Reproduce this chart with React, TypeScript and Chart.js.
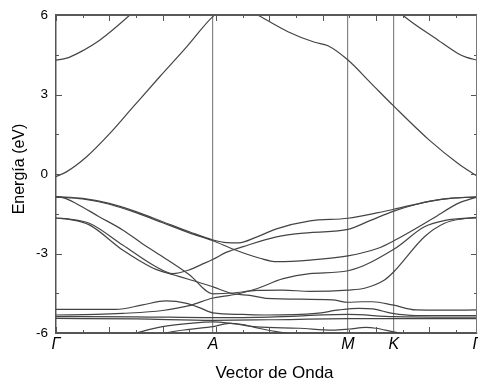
import React, { useEffect, useRef } from 'react';
import { Chart, registerables } from 'chart.js';
Chart.register(...registerables);

// High-symmetry path (x in tick units of the k-axis)
const kLabels = ['Γ', 'A', 'M', 'K', 'Γ'];
const kPositions = [0, 5.89, 10.95, 12.67, 15.79];
const xMax = 15.79;
const yTickValues = [-6, -3, 0, 3, 6];
const xTitle = 'Vector de Onda';
const yTitle = 'Energía (eV)';

// Conduction bands [k, E(eV)]
const cb1: number[][] = [[0,-0.1],[0.39,0.08],[1.15,0.65],[2.02,1.53],[2.9,2.54],[3.89,3.67],[4.9,4.8],[5.89,5.95],[6.7,6.5],[7.57,6.0],[8.7,5.37],[9.7,4.97],[10.2,4.84],[10.95,4.3],[11.82,3.42],[12.66,2.57],[14.0,1.28],[15.08,0.4],[15.79,-0.08]];
const cb2: number[][] = [[0,4.3],[0.4,4.37],[0.9,4.6],[1.65,5.06],[2.77,6.0],[3.6,6.8],[5,7.6],[8,8],[11,7.6],[12.3,6.7],[13.0,6.0],[14.32,5.06],[15.07,4.55],[15.4,4.4],[15.79,4.3]];

// Valence bands [k, E(eV)]
const vb1: number[][] = [[0,-0.85],[1,-0.92],[2,-1.11],[3,-1.42],[4,-1.8],[5,-2.18],[5.89,-2.49],[6.4,-2.59],[6.85,-2.6],[7.52,-2.38],[8.27,-2.07],[9.53,-1.77],[10.95,-1.67],[12.08,-1.46],[12.67,-1.33],[13.96,-1.04],[14.8,-0.92],[15.79,-0.86]];
const vb2: number[][] = [[0,-0.87],[1,-0.94],[2,-1.14],[3,-1.46],[4,-1.84],[5,-2.22],[5.89,-2.52],[6.65,-2.84],[7.65,-3.18],[8.27,-3.31],[9.53,-3.25],[10.95,-3.09],[12.08,-2.8],[12.67,-2.52],[14.13,-1.68],[15.1,-1.1],[15.79,-0.87]];
const vb3: number[][] = [[0,-0.85],[0.3,-0.9],[0.75,-1.11],[1.6,-1.6],[2.5,-2.11],[3.2,-2.6],[4.0,-3.12],[5.0,-3.8],[5.89,-4.52],[6.65,-4.49],[7.52,-4.39],[8.5,-4.38],[9.53,-4.43],[10.95,-4.38],[11.57,-4.31],[12.32,-4.0],[12.67,-3.69],[13.82,-2.37],[14.57,-1.86],[15.2,-1.7],[15.79,-1.66]];
const vb4: number[][] = [[0,-1.66],[0.5,-1.7],[1.25,-1.86],[2.5,-2.68],[3.75,-3.5],[4.38,-3.76],[5.0,-3.62],[5.45,-3.42],[5.89,-3.22],[6.4,-2.95],[7.02,-2.74],[8.27,-2.37],[9.53,-2.21],[10.95,-2.09],[11.8,-1.75],[12.67,-1.4],[13.5,-1.15],[14.5,-0.95],[15.79,-0.86]];
const vb5: number[][] = [[0,-1.66],[0.5,-1.71],[1.25,-1.92],[2.5,-2.87],[3.15,-3.28],[3.75,-3.6],[4.4,-3.8],[5.0,-3.98],[5.65,-4.18],[5.89,-4.26],[6.65,-4.52],[7.27,-4.58],[7.87,-4.69],[10.37,-4.75],[10.95,-4.84],[11.5,-4.82],[11.87,-4.82],[12.62,-4.94],[13.5,-5.13],[14.5,-5.14],[15.79,-5.13]];
const vb6: number[][] = [[0,-5.32],[1.5,-5.3],[2.5,-5.26],[4.0,-5.15],[5.0,-4.97],[5.89,-4.68],[6.4,-4.6],[7.0,-4.48],[7.52,-4.33],[8.52,-3.95],[9.52,-3.76],[10.95,-3.65],[12.67,-2.84],[13.82,-1.99],[14.6,-1.75],[15.79,-1.64]];
const vb7: number[][] = [[0,-5.11],[2.25,-5.11],[3.25,-4.94],[4.12,-4.79],[4.9,-4.88],[5.4,-5.05],[5.89,-5.24],[7.0,-5.3],[7.87,-5.32],[9.75,-5.26],[10.62,-5.13],[11.37,-5.07],[11.87,-5.09],[12.62,-5.26],[13.5,-5.34],[15.79,-5.34]];
const vb8: number[][] = [[0,-5.38],[3,-5.39],[5.89,-5.42],[8,-5.4],[10.95,-5.3],[12.67,-5.38],[15.79,-5.4]];
const vb9: number[][] = [[0,-5.45],[3,-5.47],[5.89,-5.52],[8,-5.5],[10.95,-5.46],[12.67,-5.46],[15.79,-5.46]];
const vb10: number[][] = [[0,-6.8],[1.5,-6.4],[3.0,-6.0],[4.0,-5.76],[5.0,-5.64],[5.89,-5.58],[6.65,-5.65],[7.52,-5.77],[9.12,-5.82],[10.37,-5.89],[11.0,-5.85],[11.62,-5.79],[12.0,-5.82],[12.62,-5.95],[12.87,-6.0],[14,-6.3],[15.79,-6.5]];
const vb11: number[][] = [[0,-7.2],[3,-6.4],[4.12,-6.0],[5.0,-5.86],[5.89,-5.76],[6.5,-5.64],[7.0,-5.68],[7.6,-5.82],[8.27,-5.95],[9,-6.05],[11,-6.1],[13,-6.3],[15.79,-6.5]];

const bands = [cb1, cb2, vb1, vb2, vb3, vb4, vb5, vb6, vb7, vb8, vb9, vb10, vb11];

const FONT = "'Liberation Sans', Arial, sans-serif";

const frameTicks = {
  id: 'frameTicks',
  afterDatasetsDraw(chart: any) {
    const { ctx, chartArea, scales } = chart;
    const { left, right, top, bottom } = chartArea;
    const x = scales.x;
    const y = scales.y;
    ctx.save();
    ctx.strokeStyle = '#555';
    ctx.lineWidth = 1;
    ctx.beginPath();
    for (let k = 0; k <= Math.floor(xMax); k++) {
      const px = Math.round(x.getPixelForValue(k)) + 0.5;
      const len = k % 2 === 0 ? 6 : 3;
      ctx.moveTo(px, bottom); ctx.lineTo(px, bottom - len);
      ctx.moveTo(px, top); ctx.lineTo(px, top + len);
    }
    for (let i = 0; i <= 8; i++) {
      const v = -6 + i * 1.5;
      const py = Math.round(y.getPixelForValue(v)) + 0.5;
      const len = i % 2 === 0 ? 6 : 3;
      ctx.moveTo(left, py); ctx.lineTo(left + len, py);
      ctx.moveTo(right, py); ctx.lineTo(right - len, py);
    }
    ctx.stroke();
    ctx.strokeStyle = '#5a5a5a';
    ctx.lineWidth = 2;
    ctx.beginPath();
    ctx.moveTo(left, top); ctx.lineTo(right, top);
    ctx.stroke();
    ctx.strokeStyle = '#777';
    ctx.lineWidth = 1;
    ctx.beginPath();
    ctx.moveTo(right - 0.5, top); ctx.lineTo(right - 0.5, bottom);
    ctx.stroke();
    ctx.restore();
  },
  afterDraw(chart: any) {
    const { ctx, chartArea, height } = chart;
    const { left, right, top, bottom } = chartArea;
    ctx.save();
    ctx.fillStyle = '#000';
    ctx.textAlign = 'center';
    ctx.textBaseline = 'alphabetic';
    ctx.font = `17px ${FONT}`;
    ctx.fillText(xTitle, (left + right) / 2 + 8, height - 3);
    ctx.translate(23.5, (top + bottom) / 2 - 5);
    ctx.rotate(-Math.PI / 2);
    ctx.font = `16px ${FONT}`;
    ctx.fillText(yTitle, 0, 0);
    ctx.restore();
  },
};

export default function App() {
  const ref = useRef<HTMLCanvasElement>(null);
  useEffect(() => {
    if (!ref.current) return;
    const chart = new Chart(ref.current, {
      type: 'line',
      data: {
        datasets: bands.map((b) => ({
          data: b.map(([k, e]) => ({ x: k, y: e })),
          borderColor: '#444',
          borderWidth: 1.2,
          pointRadius: 0,
          cubicInterpolationMode: 'monotone' as const,
          fill: false,
        })),
      },
      options: {
        animation: false,
        responsive: false,
        devicePixelRatio: 1,
        layout: { padding: { top: 15, right: 1, bottom: 0, left: 0 } },
        plugins: { legend: { display: false }, tooltip: { enabled: false } },
        scales: {
          x: {
            type: 'linear',
            min: 0,
            max: xMax,
            afterBuildTicks: (s: any) => { s.ticks = kPositions.map((v) => ({ value: v })); },
            afterFit: (s: any) => { s.height = 48; s.paddingLeft = 0; s.paddingRight = 0; },
            ticks: {
              autoSkip: false,
              maxRotation: 0,
              padding: 2,
              color: '#000',
              font: { family: FONT, size: 16, style: 'italic' },
              callback: (_v: any, i: number) => kLabels[i],
            },
            grid: {
              drawTicks: false,
              lineWidth: 1.2,
              color: (c: any) => (c.index === 0 || c.index === kPositions.length - 1 ? 'rgba(0,0,0,0)' : '#858585'),
            },
            border: { display: true, color: '#555', width: 2 },
          },
          y: {
            type: 'linear',
            min: -6,
            max: 6,
            afterBuildTicks: (s: any) => { s.ticks = yTickValues.map((v) => ({ value: v })); },
            afterFit: (s: any) => { s.width = 56; s.paddingTop = 0; s.paddingBottom = 0; },
            ticks: {
              padding: 8,
              color: '#000',
              font: { family: FONT, size: 13.5 },
              callback: (v: any) => String(v),
            },
            grid: { display: false, drawTicks: false },
            border: { display: true, color: '#555', width: 1.5 },
          },
        },
      },
      plugins: [frameTicks],
    });
    return () => chart.destroy();
  }, []);
  return (
    <canvas
      ref={ref}
      width={478}
      height={381}
      style={{ position: 'fixed', left: 0, top: 0, display: 'block', background: '#fff' }}
    />
  );
}
